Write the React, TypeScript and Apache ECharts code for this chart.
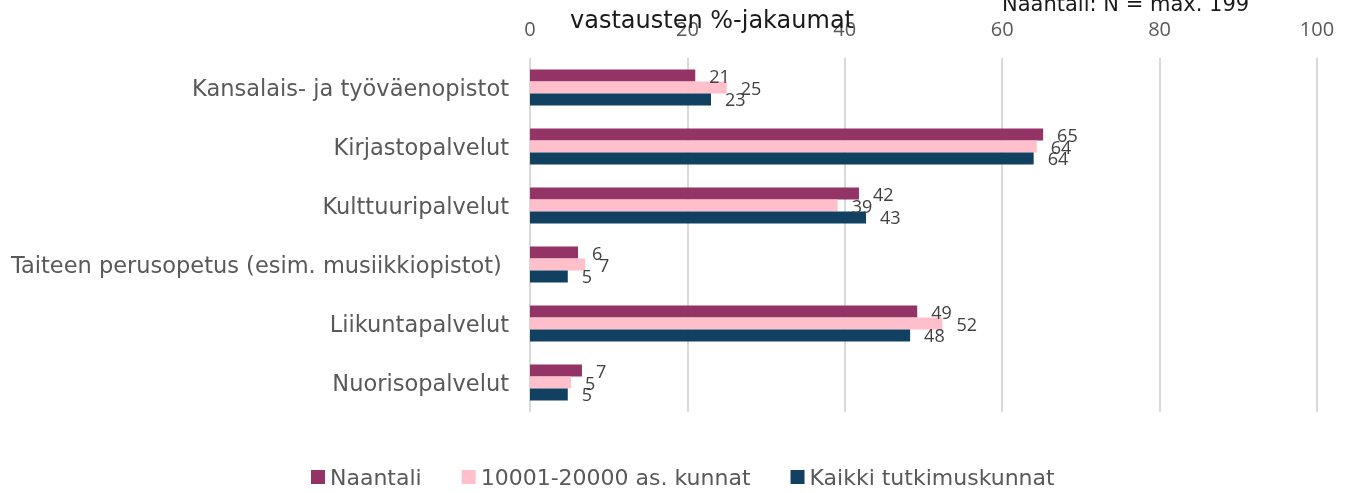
import React, { useEffect, useRef } from "react";
import * as echarts from "echarts";

const categories = [
  "Kansalais- ja työväenopistot",
  "Kirjastopalvelut",
  "Kulttuuripalvelut",
  "Taiteen perusopetus (esim. musiikkiopistot) ",
  "Liikuntapalvelut",
  "Nuorisopalvelut",
];
const seriesNames = ["Naantali", "10001-20000 as. kunnat", "Kaikki tutkimuskunnat"];
const naantali = [21.0, 65.2, 41.8, 6.1, 49.2, 6.6];
const kunnat = [25.0, 64.4, 39.1, 7.0, 52.4, 5.2];
const kaikki = [23.0, 64.0, 42.7, 4.8, 48.3, 4.8];
const colors = ["#933366", "#FFC0CB", "#124061"];
const xTicks = [0, 20, 40, 60, 80, 100];

export default function App() {
  const ref = useRef<HTMLDivElement>(null);
  useEffect(() => {
    const chart = echarts.init(ref.current!, null, { renderer: "svg" });
    const font = "'Open Sans', sans-serif";
    const wide = "'DejaVu Sans', sans-serif";
    const data = [naantali, kunnat, kaikki];
    chart.setOption({
      animation: false,
      textStyle: { fontFamily: font },
      title: [
        {
          text: "vastausten %-jakaumat",
          left: 565,
          top: 3,
          textStyle: { fontSize: 24, fontWeight: "normal", color: "#1a1a1a", fontFamily: wide },
        },
        {
          text: "Naantali: N = max. 199",
          left: 997,
          top: -12,
          textStyle: { fontSize: 21, fontWeight: "normal", color: "#1a1a1a", fontFamily: wide },
        },
      ],
      legend: {
        bottom: 0,
        left: 306,
        itemWidth: 14,
        itemHeight: 14,
        itemGap: 40,
        icon: "rect",
        textStyle: { fontSize: 22, color: "#595959", fontFamily: wide },
        data: seriesNames,
      },
      grid: { left: 530, right: 28, top: 58, bottom: 81, containLabel: false },
      xAxis: {
        type: "value",
        position: "top",
        min: xTicks[0],
        max: xTicks[xTicks.length - 1],
        interval: 20,
        axisLine: { show: false },
        axisTick: { show: false },
        axisLabel: { fontSize: 20, color: "#595959", margin: 20, fontFamily: font },
        splitLine: { lineStyle: { color: "#d9d9d9", width: 2 } },
      },
      yAxis: {
        type: "category",
        inverse: true,
        data: categories,
        axisLine: { show: false },
        axisTick: { show: false },
        axisLabel: { fontSize: 22.5, color: "#595959", margin: 21, fontFamily: wide },
      },
      series: seriesNames.map((name, i) => ({
        name,
        type: "bar",
        data: data[i],
        barGap: "0%",
        barCategoryGap: "39%",
        itemStyle: { color: colors[i] },
        label: {
          show: true,
          position: "right",
          distance: 14,
          fontSize: 18,
          color: "#404040",
          fontFamily: font,
          formatter: (p: any) => String(Math.round(p.value)),
        },
      })),
    });
    return () => chart.dispose();
  }, []);
  return <div ref={ref} style={{ position: "fixed", left: 0, top: 0, width: 1345, height: 493 }} />;
}
